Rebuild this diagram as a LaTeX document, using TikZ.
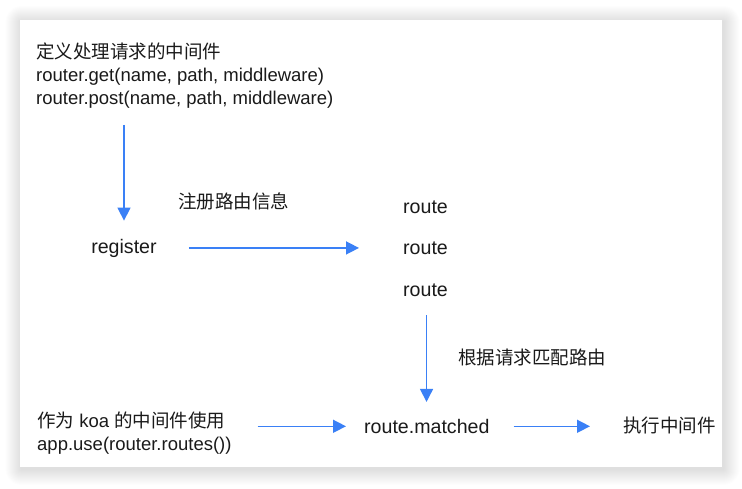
\documentclass[tikz,border=0pt]{standalone}
\usepackage{fontspec}
\setmainfont{Liberation Sans}
\newfontfamily\cjk{Noto Sans CJK SC}
\usetikzlibrary{arrows.meta}
\definecolor{arrowblue}{RGB}{58,128,246}
\definecolor{txt}{RGB}{26,26,26}
\tikzset{
  lbl/.style={inner sep=0pt, text=txt, font=\fontsize{18.5}{23}\selectfont},
  word/.style={lbl, font=\fontsize{19.6}{23}\selectfont},
  blk/.style={lbl, align=left},
  arr/.style={draw=arrowblue, line width=1.5pt, -{Triangle[length=13pt,width=13pt]}},
  shadowlayer/.style={fill=black, fill opacity=0.008}
}
\begin{document}
\begin{tikzpicture}[x=1pt,y=-1pt]
\useasboundingbox (0,0) rectangle (742,488);
\fill[white] (0,0) rectangle (742,488);
\foreach \i in {1,...,16}{
  \fill[shadowlayer, rounded corners=\i pt] (20+1.5-\i,20+2-\i) rectangle (722+1.5+\i,467+2+\i);
}
\fill[white] (20,20) rectangle (722,467);

\node[blk, anchor=north west] (def) at (36,43)
  {{\cjk 定义处理请求的中间件}\\router.get(name, path, middleware)\\router.post(name, path, middleware)};
\node[word, anchor=base] (reg) at (124,253) {register};
\node[lbl, anchor=base west] (lab1) at (178,208) {\cjk 注册路由信息};
\node[word, anchor=base west] (route1) at (403,213) {route};
\node[word, anchor=base west] (route2) at (403,254.5) {route};
\node[word, anchor=base west] (route3) at (403,296) {route};
\node[lbl, anchor=base west] (lab2) at (458,364) {\cjk 根据请求匹配路由};
\node[blk, anchor=north west] (use) at (37,411.5)
  {{\cjk 作为} koa {\cjk 的中间件使用}\\app.use(router.routes())};
\node[word, anchor=base west] (matched) at (364,433.3) {route.matched};
\node[lbl, anchor=base west] (exec) at (623,432) {\cjk 执行中间件};

\draw[arr, shorten <=16pt, shorten >=18pt] (reg.north |- def.south) -- (reg.north);
\draw[arr, shorten <=32pt, shorten >=44pt] (reg.east) -- (reg.east -| route2.west);
\draw[arr, shorten <=19pt, shorten >=17pt] ([xshift=1pt]route3.south) -- ([xshift=1pt]route3.south |- matched.north);
\draw[arr, shorten <=26pt, shorten >=18pt] (matched.west -| use.east) -- (matched.west);
\draw[arr, shorten <=24pt, shorten >=33pt] (matched.east) -- (matched.east -| exec.west);
\end{tikzpicture}
\end{document}
